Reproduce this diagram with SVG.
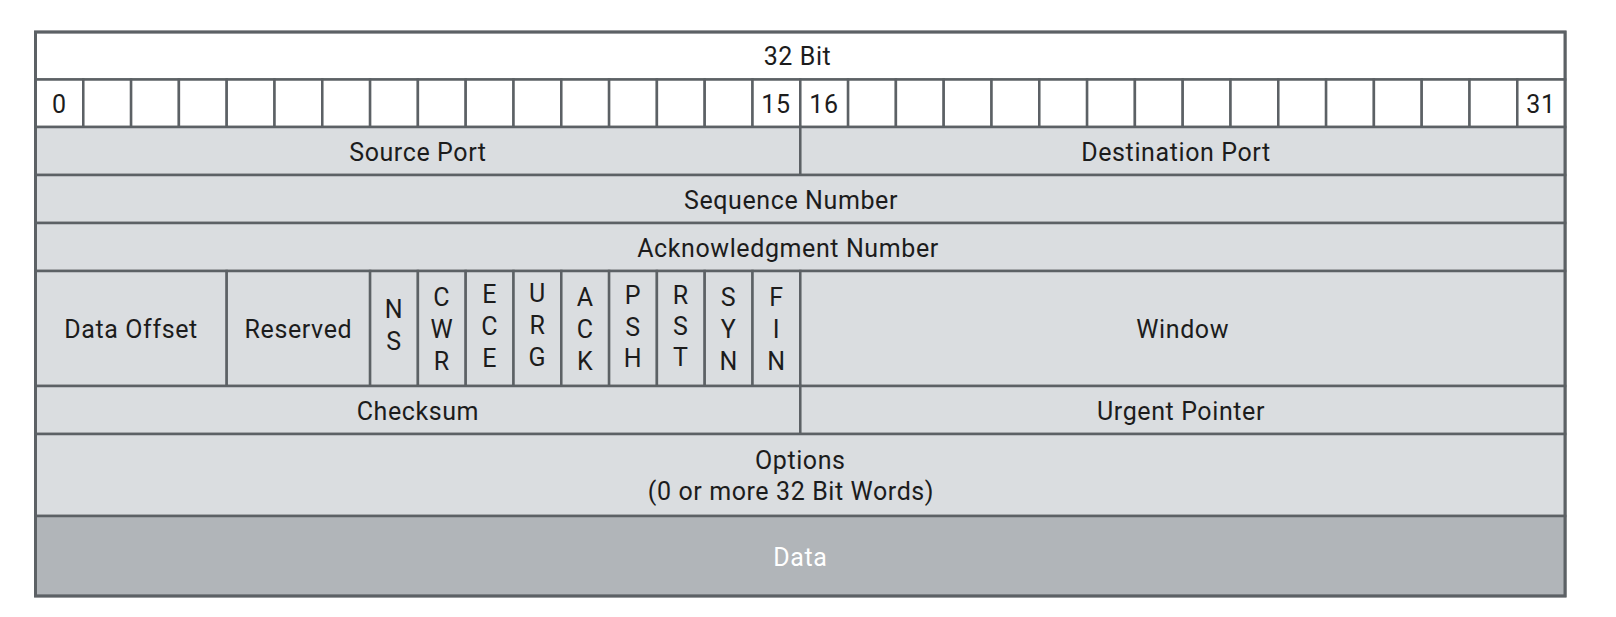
<svg xmlns="http://www.w3.org/2000/svg" width="1616" height="617" viewBox="0 0 1616 617">
<style>
.w{fill:#ffffff;stroke:#5c6165;stroke-width:2.5}
.g{fill:#dadde0;stroke:#5c6165;stroke-width:2.5}
.d{fill:#b1b5b9;stroke:#5c6165;stroke-width:2.5}
text{font-family:Roboto,"Liberation Sans",sans-serif;font-size:25px;letter-spacing:0.6px;fill:#1c1c1c;text-anchor:middle}
.wt{fill:#ffffff}
</style>
<rect width="1616" height="617" fill="#ffffff"/>
<g id="header">
<rect class="w" x="35.5" y="32" width="1529.6" height="47.5"/>
<text x="797.5" y="65">32 Bit</text>
</g>
<g id="bits">
<rect class="w" x="35.5" y="79.5" width="47.8" height="47.5"/>
<rect class="w" x="83.3" y="79.5" width="47.8" height="47.5"/>
<rect class="w" x="131.1" y="79.5" width="47.8" height="47.5"/>
<rect class="w" x="178.9" y="79.5" width="47.8" height="47.5"/>
<rect class="w" x="226.7" y="79.5" width="47.8" height="47.5"/>
<rect class="w" x="274.5" y="79.5" width="47.8" height="47.5"/>
<rect class="w" x="322.3" y="79.5" width="47.8" height="47.5"/>
<rect class="w" x="370.1" y="79.5" width="47.8" height="47.5"/>
<rect class="w" x="417.9" y="79.5" width="47.8" height="47.5"/>
<rect class="w" x="465.7" y="79.5" width="47.8" height="47.5"/>
<rect class="w" x="513.5" y="79.5" width="47.8" height="47.5"/>
<rect class="w" x="561.3" y="79.5" width="47.8" height="47.5"/>
<rect class="w" x="609.1" y="79.5" width="47.8" height="47.5"/>
<rect class="w" x="656.9" y="79.5" width="47.8" height="47.5"/>
<rect class="w" x="704.7" y="79.5" width="47.8" height="47.5"/>
<rect class="w" x="752.5" y="79.5" width="47.8" height="47.5"/>
<rect class="w" x="800.3" y="79.5" width="47.8" height="47.5"/>
<rect class="w" x="848.1" y="79.5" width="47.8" height="47.5"/>
<rect class="w" x="895.9" y="79.5" width="47.8" height="47.5"/>
<rect class="w" x="943.7" y="79.5" width="47.8" height="47.5"/>
<rect class="w" x="991.5" y="79.5" width="47.8" height="47.5"/>
<rect class="w" x="1039.3" y="79.5" width="47.8" height="47.5"/>
<rect class="w" x="1087.1" y="79.5" width="47.8" height="47.5"/>
<rect class="w" x="1134.9" y="79.5" width="47.8" height="47.5"/>
<rect class="w" x="1182.7" y="79.5" width="47.8" height="47.5"/>
<rect class="w" x="1230.5" y="79.5" width="47.8" height="47.5"/>
<rect class="w" x="1278.3" y="79.5" width="47.8" height="47.5"/>
<rect class="w" x="1326.1" y="79.5" width="47.8" height="47.5"/>
<rect class="w" x="1373.9" y="79.5" width="47.8" height="47.5"/>
<rect class="w" x="1421.7" y="79.5" width="47.8" height="47.5"/>
<rect class="w" x="1469.5" y="79.5" width="47.8" height="47.5"/>
<rect class="w" x="1517.3" y="79.5" width="47.8" height="47.5"/>
<text x="59.4" y="112.5">0</text>
<text x="776" y="112.5">15</text>
<text x="824" y="112.5">16</text>
<text x="1541" y="112.5">31</text>
</g>
<g id="source-port">
<rect class="g" x="35.5" y="127" width="764.8" height="48"/>
<text x="417.9" y="160.5">Source Port</text>
</g>
<g id="destination-port">
<rect class="g" x="800.3" y="127" width="764.8" height="48"/>
<text x="1176" y="160.5">Destination Port</text>
</g>
<g id="sequence-number">
<rect class="g" x="35.5" y="175" width="1529.6" height="48"/>
<text x="791" y="208.5">Sequence Number</text>
</g>
<g id="acknowledgment-number">
<rect class="g" x="35.5" y="223" width="1529.6" height="48"/>
<text x="788" y="256.5">Acknowledgment Number</text>
</g>
<g id="data-offset">
<rect class="g" x="35.5" y="271" width="191.2" height="115"/>
<text x="131.1" y="337.5">Data Offset</text>
</g>
<g id="reserved">
<rect class="g" x="226.7" y="271" width="143.4" height="115"/>
<text x="298.4" y="337.5">Reserved</text>
</g>
<g id="flag-ns">
<rect class="g" x="370.1" y="271" width="47.8" height="115"/>
<text x="394" y="318">N</text><text x="394" y="350">S</text>
</g>
<g id="flag-cwr">
<rect class="g" x="417.9" y="271" width="47.8" height="115"/>
<text x="441.8" y="305.5">C</text><text x="441.8" y="337.5">W</text><text x="441.8" y="369.5">R</text>
</g>
<g id="flag-ece">
<rect class="g" x="465.7" y="271" width="47.8" height="115"/>
<text x="489.6" y="303">E</text><text x="489.6" y="335">C</text><text x="489.6" y="367">E</text>
</g>
<g id="flag-urg">
<rect class="g" x="513.5" y="271" width="47.8" height="115"/>
<text x="537.4" y="302">U</text><text x="537.4" y="334">R</text><text x="537.4" y="366">G</text>
</g>
<g id="flag-ack">
<rect class="g" x="561.3" y="271" width="47.8" height="115"/>
<text x="585.2" y="306">A</text><text x="585.2" y="338">C</text><text x="585.2" y="370">K</text>
</g>
<g id="flag-psh">
<rect class="g" x="609.1" y="271" width="47.8" height="115"/>
<text x="633" y="304">P</text><text x="633" y="336">S</text><text x="633" y="367">H</text>
</g>
<g id="flag-rst">
<rect class="g" x="656.9" y="271" width="47.8" height="115"/>
<text x="680.8" y="304">R</text><text x="680.8" y="335">S</text><text x="680.8" y="366">T</text>
</g>
<g id="flag-syn">
<rect class="g" x="704.7" y="271" width="47.8" height="115"/>
<text x="728.6" y="306">S</text><text x="728.6" y="338">Y</text><text x="728.6" y="370">N</text>
</g>
<g id="flag-fin">
<rect class="g" x="752.5" y="271" width="47.8" height="115"/>
<text x="776.4" y="306">F</text><text x="776.4" y="338">I</text><text x="776.4" y="370">N</text>
</g>
<g id="window">
<rect class="g" x="800.3" y="271" width="764.8" height="115"/>
<text x="1182.7" y="337.5">Window</text>
</g>
<g id="checksum">
<rect class="g" x="35.5" y="386" width="764.8" height="48"/>
<text x="417.9" y="419.5">Checksum</text>
</g>
<g id="urgent-pointer">
<rect class="g" x="800.3" y="386" width="764.8" height="48"/>
<text x="1181" y="419.5">Urgent Pointer</text>
</g>
<g id="options">
<rect class="g" x="35.5" y="434" width="1529.6" height="82"/>
<text x="800.3" y="469">Options</text>
<text x="791" y="500">(0 or more 32 Bit Words)</text>
</g>
<g id="data">
<rect class="d" x="35.5" y="516" width="1529.6" height="80"/>
<text class="wt" x="800.3" y="565.5">Data</text>
</g>
<rect x="35.5" y="32" width="1529.6" height="564" fill="none" stroke="#5c6165" stroke-width="3"/>
</svg>
